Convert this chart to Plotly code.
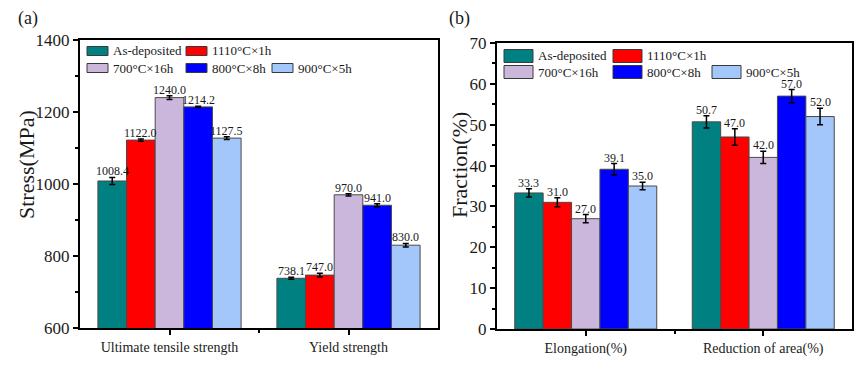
import plotly.graph_objects as go

# ---------------- data ----------------
series = ["As-deposited", "1110°C×1h", "700°C×16h", "800°C×8h", "900°C×5h"]
colors = ["#008080", "#FF0000", "#CBB7DC", "#0000FF", "#A3C6FB"]

cats_a = ["Ultimate tensile strength", "Yield strength"]
vals_a = [[1008.4, 738.1], [1122.0, 747.0], [1240.0, 970.0], [1214.2, 941.0], [1127.5, 830.0]]
errs_a = [[10, 3], [3, 5], [5, 3], [2, 4], [4, 5]]

cats_b = ["Elongation(%)", "Reduction of area(%)"]
vals_b = [[33.3, 50.7], [31.0, 47.0], [27.0, 42.0], [39.1, 57.0], [35.0, 52.0]]
errs_b = [[1.0, 1.5], [1.1, 2.0], [1.0, 1.5], [1.4, 1.6], [0.9, 2.0]]

W, H = 865, 373
FONT = "Liberation Serif"
TXT = "#1a1a1a"


def px(x):
    return x / W


def py(y):
    return 1 - y / H


fig = go.Figure()

n = len(series)
bar_w = 0.8 / n
annotations = []


def add_panel(vals, errs, xa, ya):
    for k, name in enumerate(series):
        fig.add_trace(go.Bar(
            x=[0, 1], y=vals[k], name=name, showlegend=False,
            marker=dict(color=colors[k], line=dict(color="#4a4a4a", width=1)),
            error_y=dict(type="data", array=errs[k], color="black", thickness=1.5, width=3),
            xaxis=xa, yaxis=ya,
        ))
    for k in range(n):
        for i in range(2):
            annotations.append(dict(
                xref=xa, yref=ya, x=i + (k - (n - 1) / 2) * bar_w, y=vals[k][i] + errs[k][i],
                text=f"{vals[k][i]:.1f}", showarrow=False, xanchor="center", yanchor="middle",
                yshift=6, font=dict(family=FONT, size=12, color=TXT)))


add_panel(vals_a, errs_a, "x", "y")
add_panel(vals_b, errs_b, "x2", "y2")

axis_common = dict(
    showline=True, linecolor="black", linewidth=2, mirror=True,
    ticks="outside", ticklen=5, tickwidth=1.5, tickcolor="black",
    showgrid=False, zeroline=False, automargin=False,
    tickfont=dict(family=FONT, size=17, color=TXT),
)
xcommon = dict(axis_common, range=[-0.5, 1.5], tickmode="array", tickvals=[0, 1],
               tickfont=dict(family=FONT, size=14, color=TXT),
               minor=dict(tickmode="array", tickvals=[0.5], ticks="outside", ticklen=3,
                          tickwidth=1.5, tickcolor="black"))

fig.update_layout(
    template="none",
    width=W, height=H, margin=dict(l=0, r=0, t=0, b=0, autoexpand=False),
    paper_bgcolor="white", plot_bgcolor="white",
    barmode="group", bargap=0.2, bargroupgap=0,
    xaxis=dict(xcommon, domain=[px(80), px(438)], anchor="y", ticktext=cats_a),
    yaxis=dict(axis_common, domain=[py(328), py(40)], anchor="x", range=[600, 1400],
               tickvals=[600, 800, 1000, 1200, 1400],
               minor=dict(dtick=100, ticks="outside", ticklen=3, tickwidth=1.5, tickcolor="black")),
    xaxis2=dict(xcommon, domain=[px(497), px(852)], anchor="y2", ticktext=cats_b),
    yaxis2=dict(axis_common, domain=[py(329), py(43)], anchor="x2", range=[0, 70],
                dtick=10,
                minor=dict(dtick=5, ticks="outside", ticklen=3, tickwidth=1.5, tickcolor="black")),
)

# ---------------- custom legends (layout, in pixels) ----------------
shapes = []


def legend(cols_x, rows_y, sw_w, sw_h, items):
    for k, c, r in items:
        x0 = cols_x[c]
        yc = rows_y[r]
        shapes.append(dict(type="rect", xref="paper", yref="paper",
                           x0=px(x0), x1=px(x0 + sw_w), y0=py(yc + sw_h / 2), y1=py(yc - sw_h / 2),
                           fillcolor=colors[k], line=dict(color="#3a3a3a", width=1)))
        annotations.append(dict(xref="paper", yref="paper", x=px(x0 + sw_w + 3), y=py(yc),
                                xanchor="left", yanchor="middle", showarrow=False,
                                text=series[k], font=dict(family=FONT, size=13, color=TXT)))


layout_items = [(0, 0, 0), (1, 1, 0), (2, 0, 1), (3, 1, 1), (4, 2, 1)]
legend([87, 186, 272], [51, 68], 21, 9, layout_items)
legend([504, 613, 712], [56, 72], 29, 13, layout_items)

annotations += [
    dict(xref="paper", yref="paper", x=px(26), y=py(165), text="Stress(MPa)", textangle=-90,
         showarrow=False, xanchor="center", yanchor="middle",
         font=dict(family=FONT, size=22, color=TXT)),
    dict(xref="paper", yref="paper", x=px(459), y=py(165), text="Fraction(%)", textangle=-90,
         showarrow=False, xanchor="center", yanchor="middle",
         font=dict(family=FONT, size=22, color=TXT)),
    dict(xref="paper", yref="paper", x=px(28), y=py(18), text="(a)", showarrow=False,
         xanchor="center", yanchor="middle", font=dict(family=FONT, size=18, color=TXT)),
    dict(xref="paper", yref="paper", x=px(459), y=py(18), text="(b)", showarrow=False,
         xanchor="center", yanchor="middle", font=dict(family=FONT, size=18, color=TXT)),
]

fig.update_layout(shapes=shapes, annotations=annotations)

fig.write_html("out.html", config={"displayModeBar": False},
               post_script="document.body.style.margin='0';document.body.style.overflow='hidden';")
